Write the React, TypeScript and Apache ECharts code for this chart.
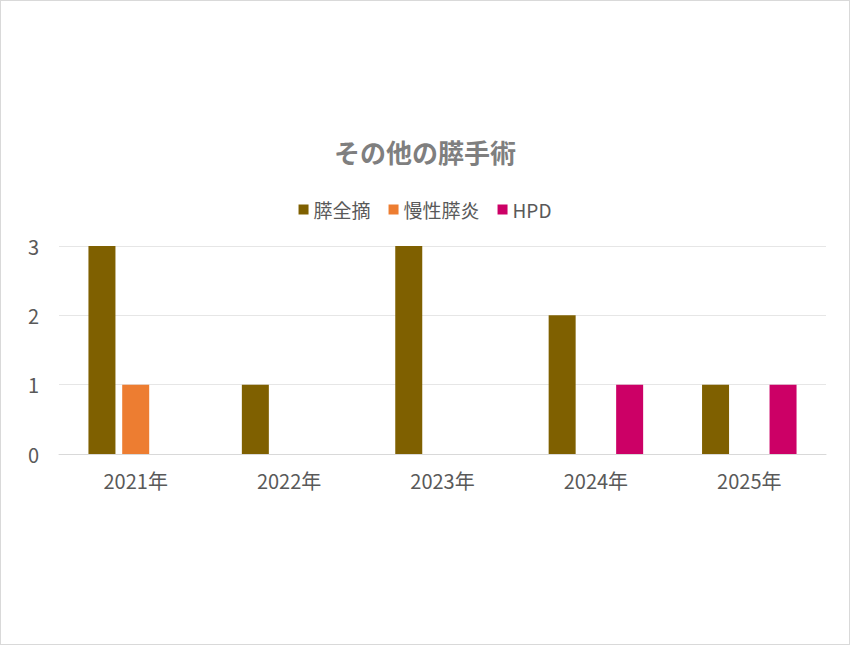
import * as echarts from "echarts";
import React, { useEffect, useRef } from "react";

const categories = ["2021年", "2022年", "2023年", "2024年", "2025年"];
const pancreatectomy = [3, 1, 3, 2, 1];
const chronicPancreatitis = [1, null, null, null, null];
const hpd = [null, null, null, 1, 1];

const App: React.FC = () => {
  const chartRef = useRef<HTMLDivElement | null>(null);

  useEffect(() => {
    document.body.style.margin = "0";
    if (!chartRef.current) return;
    const chart = echarts.init(chartRef.current, null, { renderer: "svg" });
    const font = "'Noto Sans CJK JP', 'Noto Sans', sans-serif";
    chart.setOption({
      animation: false,
      textStyle: { fontFamily: font },
      title: {
        text: "その他の膵手術",
        left: "center",
        top: 132,
        textStyle: { fontSize: 26, fontWeight: "bold", color: "#7f7f7f", fontFamily: font },
      },
      legend: {
        top: 194,
        left: "center",
        itemWidth: 10,
        itemHeight: 10,
        itemGap: 18,
        icon: "rect",
        textStyle: { fontSize: 19, color: "#595959", fontFamily: font },
      },
      grid: { left: 58, right: 23, top: 245, bottom: 190 },
      xAxis: {
        type: "category",
        data: categories,
        axisTick: { show: false },
        axisLine: { lineStyle: { color: "#d9d9d9" } },
        axisLabel: { fontSize: 20, color: "#595959", margin: 16, fontFamily: font },
      },
      yAxis: {
        type: "value",
        min: 0,
        max: 3,
        interval: 1,
        axisLabel: { fontSize: 20, color: "#595959", margin: 20, fontFamily: font },
        splitLine: { lineStyle: { color: "#e6e6e6" } },
      },
      series: [
        { name: "膵全摘", type: "bar", data: pancreatectomy, barWidth: 27, barGap: "25%", itemStyle: { color: "#7F6000" } },
        { name: "慢性膵炎", type: "bar", data: chronicPancreatitis, barWidth: 27, itemStyle: { color: "#ED7D31" } },
        { name: "HPD", type: "bar", data: hpd, barWidth: 27, itemStyle: { color: "#CC0066" } },
      ],
    });
    return () => chart.dispose();
  }, []);

  return (
    <div style={{ width: 850, height: 645, boxSizing: "border-box", border: "1px solid #d9d9d9", background: "#fff" }}>
      <div ref={chartRef} style={{ width: 848, height: 643 }} />
    </div>
  );
};

export default App;
